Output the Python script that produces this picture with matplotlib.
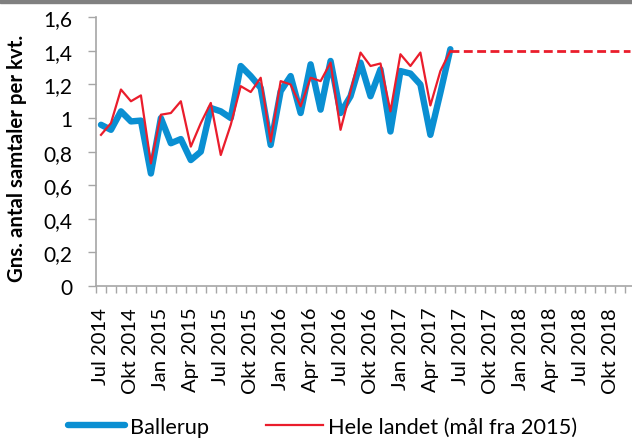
import numpy as np
import matplotlib
matplotlib.use('Agg')
import matplotlib.pyplot as plt
from matplotlib.patches import Rectangle

# --- Data ---
MONTH_NAMES = ['Jan', 'Feb', 'Mar', 'Apr', 'Maj', 'Jun',
               'Jul', 'Aug', 'Sep', 'Okt', 'Nov', 'Dec']
months = [f'{MONTH_NAMES[(6 + k) % 12]} {2014 + (6 + k) // 12}' for k in range(54)]

ballerup = [0.96, 0.93, 1.04, 0.98, 0.985, 0.67, 1.00, 0.85, 0.875, 0.75,
            0.80, 1.06, 1.04, 1.00, 1.31, 1.25, 1.18, 0.84, 1.16, 1.25,
            1.03, 1.32, 1.05, 1.34, 1.03, 1.13, 1.33, 1.13, 1.29, 0.92,
            1.28, 1.265, 1.20, 0.90, 1.15, 1.41]

hele_landet = [0.90, 0.97, 1.17, 1.10, 1.135, 0.73, 1.02, 1.03, 1.10, 0.83,
               0.97, 1.09, 0.78, 0.96, 1.19, 1.155, 1.24, 0.86, 1.22, 1.20,
               1.07, 1.24, 1.22, 1.33, 0.93, 1.16, 1.39, 1.31, 1.325, 1.04,
               1.38, 1.31, 1.39, 1.075, 1.28, 1.40]

# target (mål) from Jun 2017 to end of axis
target_start = 35
target = [1.4] * (len(months) - target_start)

BLUE = '#0a8fd2'
RED = '#ea1d2c'
GREY = '#a6a6a6'

plt.rcParams['font.family'] = ['Lato', 'DejaVu Sans']

fig = plt.figure(figsize=(6.32, 4.39), dpi=100)
ax = fig.add_axes([96 / 632, 1 - 287 / 439, 539 / 632, 268.7 / 439])

x = np.arange(len(months))
ax.plot(x[:len(ballerup)], ballerup, color=BLUE, lw=4.6, solid_joinstyle='round',
        solid_capstyle='round', label='Ballerup', zorder=2)
ax.plot(x[:len(hele_landet)], hele_landet, color=RED, lw=1.6,
        label='Hele landet (mål fra 2015)', zorder=3)
ax.plot(x[target_start:], target, color=RED, lw=2.0, dashes=(3.2, 1.6), zorder=3)

ax.set_xlim(-0.5, len(months) - 0.5)
ax.set_ylim(0, 1.6)

# y axis
yticks = np.arange(0, 1.61, 0.2)
ax.set_yticks(yticks)
ax.set_yticklabels(['0', '0,2', '0,4', '0,6', '0,8', '1', '1,2', '1,4', '1,6'])
ax.tick_params(axis='y', direction='out', length=6, width=1, color=GREY,
               labelsize=15, pad=11)

# x axis: labels every 3 months, ticks between every month
ax.set_xticks(x[::3])
ax.set_xticklabels(months[::3], rotation=90)
ax.set_xticks(np.arange(-0.5, len(months), 1), minor=True)
ax.tick_params(axis='x', which='major', length=0, labelsize=14.6, pad=15)
ax.tick_params(axis='x', which='minor', direction='out', length=5, width=1, color=GREY)

for side in ['top', 'right']:
    ax.spines[side].set_visible(False)
for side in ['left', 'bottom']:
    ax.spines[side].set_color(GREY)
    ax.spines[side].set_linewidth(1.2)

ax.set_ylabel('Gns. antal samtaler per kvt.', fontsize=14.7, fontweight='bold')
ax.yaxis.set_label_coords(-0.128, 0.48)

leg = fig.legend(loc='center left', bbox_to_anchor=(68 / 632, 1 - 428 / 439),
                 ncol=2, frameon=False, fontsize=15.7, handlelength=2.6,
                 handletextpad=0.25, columnspacing=2.6, borderaxespad=0,
                 borderpad=0)

# grey band at the top of the screenshot
fig.patches.append(Rectangle((0, 1 - 4 / 439), 1, 4 / 439, transform=fig.transFigure,
                             color='#808080', zorder=0))

fig.savefig('out.png', dpi=100)
